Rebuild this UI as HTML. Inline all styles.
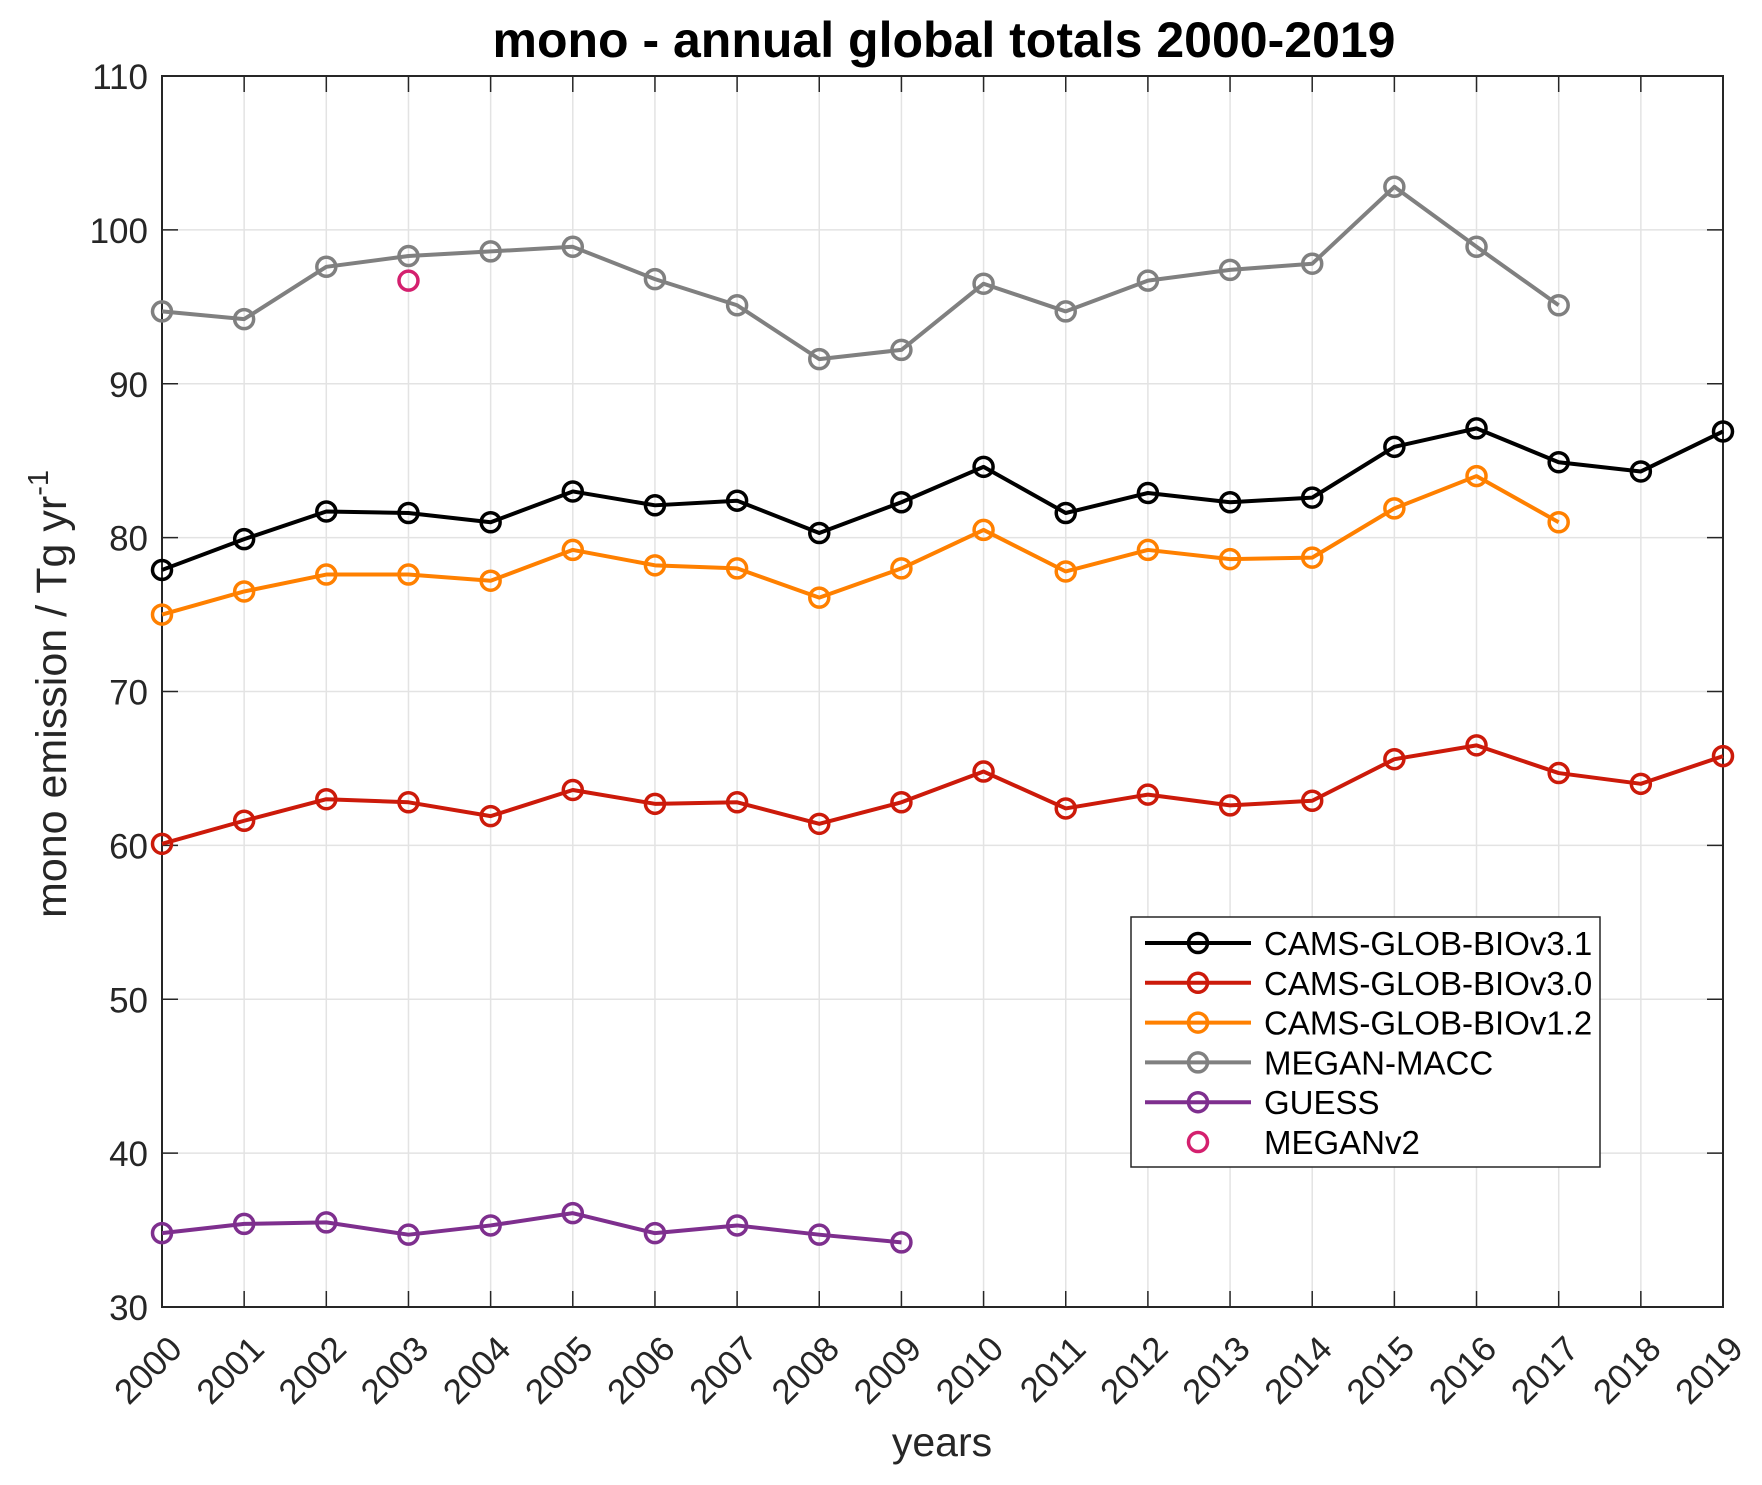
<!DOCTYPE html>
<html><head><meta charset="utf-8"><style>
body{margin:0;background:#fff}
svg{display:block;font-family:"Liberation Sans",sans-serif}
</style></head><body>
<svg id="chart" width="1762" height="1485" viewBox="0 0 1762 1485">
<text x="944" y="57" text-anchor="middle" font-size="50" font-weight="bold" fill="#000">mono - annual global totals 2000-2019</text>
<g id="grid"></g><g id="axes"></g><g id="series"></g>
<text transform="translate(66,694) rotate(-90)" text-anchor="middle" font-size="43" fill="#262626">mono emission / Tg yr<tspan dy="-18" font-size="29">-1</tspan></text>
<text x="942" y="1456" text-anchor="middle" font-size="41" fill="#262626">years</text>
<g id="legend"></g>
</svg>
<script>
const years=[2000,2001,2002,2003,2004,2005,2006,2007,2008,2009,2010,2011,2012,2013,2014,2015,2016,2017,2018,2019];
const yTicks=[30,40,50,60,70,80,90,100,110];
const camsV31=[77.9,79.9,81.7,81.6,81.0,83.0,82.1,82.4,80.3,82.3,84.6,81.6,82.9,82.3,82.6,85.9,87.1,84.9,84.3,86.9];
const camsV30=[60.1,61.6,63.0,62.8,61.9,63.6,62.7,62.8,61.4,62.8,64.8,62.4,63.3,62.6,62.9,65.6,66.5,64.7,64.0,65.8];
const camsV12=[75.0,76.5,77.6,77.6,77.2,79.2,78.2,78.0,76.1,78.0,80.5,77.8,79.2,78.6,78.7,81.9,84.0,81.0];
const meganMacc=[94.7,94.2,97.6,98.3,98.6,98.9,96.8,95.1,91.6,92.2,96.5,94.7,96.7,97.4,97.8,102.8,98.9,95.1];
const guess=[34.8,35.4,35.5,34.7,35.3,36.1,34.8,35.3,34.7,34.2];
const meganV2Years=[2003];
const meganV2=[96.7];
const seriesNames=["CAMS-GLOB-BIOv3.1","CAMS-GLOB-BIOv3.0","CAMS-GLOB-BIOv1.2","MEGAN-MACC","GUESS","MEGANv2"];

const NS="http://www.w3.org/2000/svg";
const L=162,R=1723,T=76,B=1307;
const xS=y=>L+(y-2000)/(2019-2000)*(R-L);
const yS=v=>B-(v-30)/(110-30)*(B-T);
function mk(tag,attrs,parent){const e=document.createElementNS(NS,tag);for(const k in attrs)e.setAttribute(k,attrs[k]);parent.appendChild(e);return e;}
const grid=document.getElementById('grid'),axes=document.getElementById('axes'),ser=document.getElementById('series'),leg=document.getElementById('legend');
mk('rect',{x:L,y:T,width:R-L,height:B-T,fill:'#fff'},grid);
years.forEach(y=>{
  const x=xS(y);
  const g=mk('line',{x1:x,x2:x,y1:T,y2:B,stroke:'#e3e3e3','stroke-width':1.5},grid);
  
  
  mk('line',{x1:x,x2:x,y1:B,y2:B-16,stroke:'#262626','stroke-width':1.5},axes);
  mk('line',{x1:x,x2:x,y1:T,y2:T+16,stroke:'#262626','stroke-width':1.5},axes);
  const t=mk('text',{transform:`translate(${x+22},${B+44}) rotate(-45)`,'text-anchor':'end','font-size':35,fill:'#262626'},axes);
  t.textContent=y;
  
  
});
yTicks.forEach(v=>{
  const y=yS(v);
  const g=mk('line',{x1:L,x2:R,y1:y,y2:y,stroke:'#e3e3e3','stroke-width':1.5},grid);
  
  
  mk('line',{x1:L,x2:L+16,y1:y,y2:y,stroke:'#262626','stroke-width':1.5},axes);
  mk('line',{x1:R,x2:R-16,y1:y,y2:y,stroke:'#262626','stroke-width':1.5},axes);
  const t=mk('text',{x:L-14,y:y+13,'text-anchor':'end','font-size':35,fill:'#262626'},axes);
  t.textContent=v;
  
  
});
const frame=mk('rect',{x:L,y:T,width:R-L,height:B-T,fill:'none',stroke:'#262626','stroke-width':2},axes);



const cols=['#000000','#cc1a0a','#ff8000','#808080','#7e2f8e','#d4206e'];
const data=[camsV31,camsV30,camsV12,meganMacc,guess];
data.forEach((vals,i)=>{
  const g=mk('g',{},ser);
  
  
  const pts=vals.map((v,j)=>xS(years[j])+','+yS(v)).join(' ');
  mk('polyline',{points:pts,fill:'none',stroke:cols[i],'stroke-width':4,'stroke-linejoin':'round'},g);
  vals.forEach((v,j)=>{
    const c=mk('circle',{cx:xS(years[j]),cy:yS(v),r:9.5,fill:'none',stroke:cols[i],'stroke-width':3.5},g);
    
    
  });
});
const g2=mk('g',{},ser);


meganV2.forEach((v,j)=>{
  const c=mk('circle',{cx:xS(meganV2Years[j]),cy:yS(v),r:9.5,fill:'none',stroke:cols[5],'stroke-width':3.5},g2);
  
  
});

const box=mk('rect',{x:1131,y:917,width:469,height:250,fill:'#fff',stroke:'#262626','stroke-width':1.5},leg);


seriesNames.forEach((n,i)=>{
  const y=943+i*39.8;
  const g=mk('g',{},leg);
  
  
  if(i<5) mk('line',{x1:1145,x2:1251,y1:y,y2:y,stroke:cols[i],'stroke-width':4},g);
  mk('circle',{cx:1198,cy:y,r:9.5,fill:'none',stroke:cols[i],'stroke-width':3.5},g);
  const t=mk('text',{x:1264,y:y+12,'font-size':33,fill:'#000'},g);
  t.textContent=n;
});
</script>
</body></html>
